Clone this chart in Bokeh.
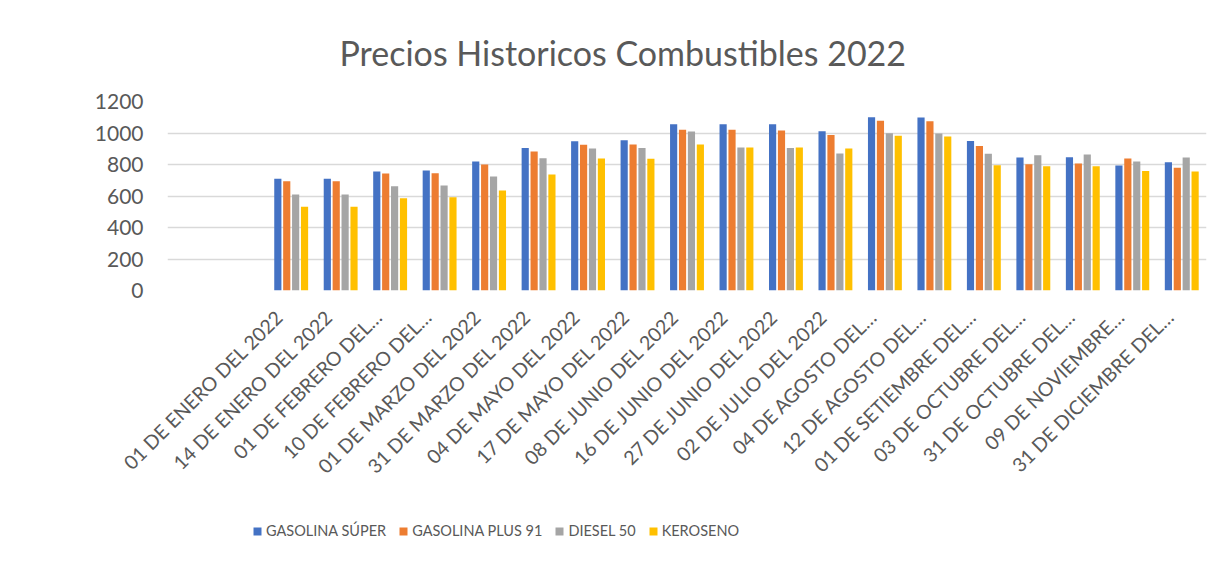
from bokeh.plotting import figure
from bokeh.models import (ColumnDataSource, Range1d, FixedTicker, Legend, LegendItem,
                          LinearAxis)
from bokeh.layouts import column
from bokeh.transform import dodge
from bokeh.embed import file_html
from bokeh.resources import INLINE

fechas = ["01 DE ENERO DEL 2022", "14 DE ENERO DEL 2022", "01 DE FEBRERO DEL…",
          "10 DE FEBRERO DEL…", "01 DE MARZO DEL 2022", "31 DE MARZO DEL 2022",
          "04 DE MAYO DEL 2022", "17 DE MAYO DEL 2022", "08 DE JUNIO DEL 2022",
          "16 DE JUNIO DEL 2022", "27 DE JUNIO DEL 2022", "02 DE JULIO DEL 2022",
          "04 DE AGOSTO DEL…", "12 DE AGOSTO DEL…", "01 DE SETIEMBRE DEL…",
          "03 DE OCTUBRE DEL…", "31 DE OCTUBRE DEL…", "09 DE NOVIEMBRE…",
          "31 DE DICIEMBRE DEL…"]
gasolina_super = [709, 709, 755, 762, 819, 904, 948, 954, 1056, 1056, 1056, 1011,
                  1100, 1098, 950, 844, 846, 794, 815]
gasolina_plus91 = [694, 694, 743, 745, 800, 882, 925, 927, 1020, 1020, 1016, 988,
                   1077, 1075, 918, 802, 806, 838, 779]
diesel_50 = [609, 609, 662, 667, 724, 840, 901, 904, 1009, 908, 904, 870,
             999, 997, 868, 859, 863, 819, 844]
kerosene = [531, 531, 586, 592, 635, 736, 838, 836, 927, 908, 908, 901,
            982, 978, 796, 789, 789, 758, 755]
series_names = ["GASOLINA SÚPER", "GASOLINA PLUS 91", "DIESEL 50", "KEROSENO"]
y_ticks = [0, 200, 400, 600, 800, 1000, 1200]

colors = ["#4472C4", "#ED7D31", "#A5A5A5", "#FFC000"]
TXT = "#595959"
FONT = "Lato"

idx = list(range(len(fechas)))
source = ColumnDataSource(data=dict(idx=idx, s=gasolina_super, p=gasolina_plus91,
                                    d=diesel_50, k=kerosene))

p = figure(frame_width=1039, frame_height=189, output_backend="svg", toolbar_location=None,
           x_range=Range1d(-2.5, len(fechas) - 0.5), y_range=Range1d(0, 1200),
           min_border_left=167, min_border_right=4, min_border_top=101,
           min_border_bottom=215,
           title="Precios Historicos Combustibles 2022")
p.outline_line_color = None
p.background_fill_color = "white"
p.border_fill_color = "white"

p.title.text_font = FONT
p.title.text_font_size = "34px"
p.title.text_font_style = "normal"
p.title.text_color = TXT
p.title.align = "left"
p.title.offset = 172
p.title.standoff = 58

keys = ["s", "p", "d", "k"]
offs = [-0.27, -0.09, 0.09, 0.27]
for key, off, c in zip(keys, offs, colors):
    p.vbar(x=dodge("idx", off), top=key, width=0.145, source=source,
           fill_color=c, line_color=None)

p.xaxis.visible = False
p.xgrid.grid_line_color = None

# label axis, shifted slightly left as in the reference
p.extra_x_ranges = {"lab": Range1d(-2.5 + 0.243, len(fechas) - 0.5 + 0.243)}
xa = LinearAxis(x_range_name="lab")
xa.ticker = FixedTicker(ticks=idx)
xa.major_label_overrides = {i: f for i, f in zip(idx, fechas)}
xa.major_label_orientation = 0.785398
xa.axis_line_color = None
xa.major_tick_line_color = None
xa.minor_tick_line_color = None
xa.major_label_text_font = FONT
xa.major_label_text_font_size = "19.5px"
xa.major_label_text_color = TXT
xa.major_label_standoff = 17
p.add_layout(xa, "below")

p.yaxis.ticker = FixedTicker(ticks=y_ticks)
p.yaxis.axis_line_color = None
p.yaxis.major_tick_line_color = None
p.yaxis.minor_tick_line_color = None
p.yaxis.major_label_text_font = FONT
p.yaxis.major_label_text_font_size = "21px"
p.yaxis.major_label_text_color = TXT
p.yaxis.major_label_standoff = 18
p.ygrid.ticker = FixedTicker(ticks=y_ticks)
p.ygrid.grid_line_color = "#D9D9D9"
p.ygrid.grid_line_width = 1.5

# legend strip below the chart (its frame is aligned with the chart frame)
lf = figure(width=1210, height=50, output_backend="svg", toolbar_location=None,
            x_range=Range1d(0, 1), y_range=Range1d(0, 1),
            x_axis_location=None, y_axis_location=None,
            min_border_left=0, min_border_right=0, min_border_top=0, min_border_bottom=0)
lf.outline_line_color = None
lf.xgrid.visible = False
lf.ygrid.visible = False
swatch = ColumnDataSource(data=dict(x=[-10], top=[0]))  # off-range swatch source
items = []
for c, name in zip(colors, series_names):
    r = lf.vbar(x="x", top="top", width=0.1, source=swatch, fill_color=c, line_color=None)
    items.append(LegendItem(label=name, renderers=[r]))

legend = Legend(items=items, orientation="horizontal", location=(85, 16))
legend.border_line_color = None
legend.background_fill_alpha = 0
legend.label_text_font = FONT
legend.label_text_font_size = "14.5px"
legend.label_text_color = TXT
legend.glyph_width = 10
legend.glyph_height = 10
legend.label_standoff = 4
legend.spacing = 12
legend.padding = 0
legend.margin = 0
lf.add_layout(legend, "center")

layout = column(p, lf, spacing=0)
open("out.html", "w").write(file_html(layout, INLINE))
